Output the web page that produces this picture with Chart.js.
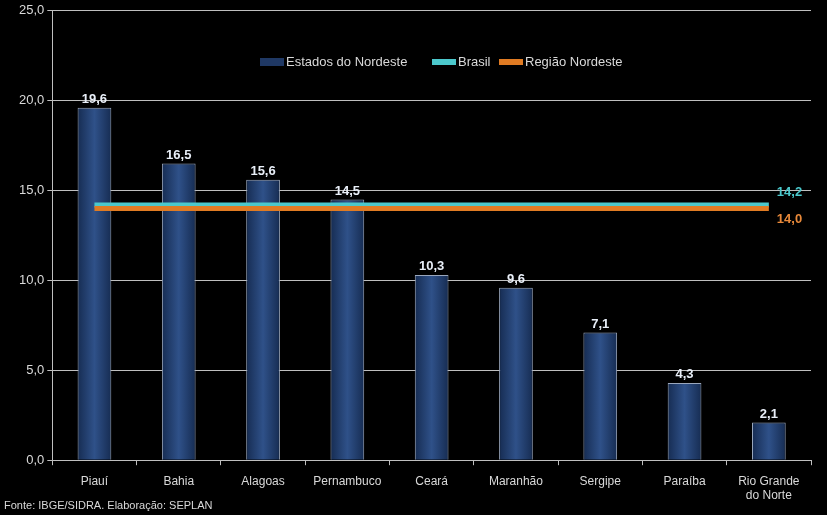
<!DOCTYPE html>
<html>
<head>
<meta charset="utf-8">
<script src="https://cdn.jsdelivr.net/npm/chart.js@4.4.0/dist/chart.umd.min.js"></script>
<style>
  html, body { margin: 0; padding: 0; background: #000; }
  #wrap { position: relative; width: 827px; height: 515px; }
  #source { position: absolute; left: 4px; top: 499px; color: #d9d9d9; font: 11px "Liberation Sans", Arial, sans-serif; }
</style>
</head>
<body>
<div id="wrap">
  <canvas id="chart" width="827" height="515"></canvas>
  <div id="source">Fonte: IBGE/SIDRA. Elaboração: SEPLAN</div>
</div>
<script>
const estados = ["Piauí", "Bahia", "Alagoas", "Pernambuco", "Ceará", "Maranhão", "Sergipe", "Paraíba", ["Rio Grande", "do Norte"]];
const valoresEstados = [19.6, 16.5, 15.6, 14.5, 10.3, 9.6, 7.1, 4.3, 2.1];
const valorBrasil = 14.2;
const valorNordeste = 14.0;
const yTicks = [0, 5, 10, 15, 20, 25];

const fmt = v => v.toFixed(1).replace(".", ",");
const font = '"Liberation Sans", Arial, sans-serif';

function barFill(context) {
  const chart = context.chart;
  const area = chart.chartArea;
  if (!area || !chart.scales.x) return "#1f3864";
  const x = chart.scales.x.getPixelForValue(context.dataIndex);
  const w = 34;
  const g = chart.ctx.createLinearGradient(x - w / 2, 0, x + w / 2, 0);
  g.addColorStop(0, "#162c52");
  g.addColorStop(0.5, "#2f5189");
  g.addColorStop(1, "#162c52");
  return g;
}

const labelsPlugin = {
  id: "labels",
  afterDatasetsDraw(chart) {
    const ctx = chart.ctx;
    ctx.save();
    ctx.font = "bold 13px " + font;
    ctx.textAlign = "center";
    ctx.textBaseline = "bottom";
    ctx.fillStyle = "#e8eef7";
    chart.getDatasetMeta(2).data.forEach((bar, i) => {
      ctx.fillText(fmt(valoresEstados[i]), bar.x, bar.y - 2);
    });
    // rótulos no fim das linhas
    const last = estados.length - 1;
    const pb = chart.getDatasetMeta(0).data[last];
    const pn = chart.getDatasetMeta(1).data[last];
    ctx.textAlign = "left";
    ctx.textBaseline = "middle";
    ctx.fillStyle = "#4bc8cc";
    ctx.fillText(fmt(valorBrasil), pb.x + 8, pb.y - 13);
    ctx.fillStyle = "#e8893a";
    ctx.fillText(fmt(valorNordeste), pn.x + 8, pn.y + 11);
    ctx.restore();
  }
};

const legendPlugin = {
  id: "customLegend",
  afterDraw(chart) {
    const ctx = chart.ctx;
    ctx.save();
    ctx.font = "13px " + font;
    ctx.textBaseline = "middle";
    const y = 62;
    const items = [
      { x: 260, text: "Estados do Nordeste", color: "#1f3864", h: 8 },
      { x: 432, text: "Brasil", color: "#4bc8cc", h: 6 },
      { x: 499, text: "Região Nordeste", color: "#e07b23", h: 6 },
    ];
    items.forEach(it => {
      ctx.fillStyle = it.color;
      ctx.fillRect(it.x, y - it.h / 2, 24, it.h);
      ctx.fillStyle = "#d9d9d9";
      ctx.fillText(it.text, it.x + 26, y);
    });
    ctx.restore();
  }
};

new Chart(document.getElementById("chart"), {
  data: {
    labels: estados,
    datasets: [
      {
        type: "line",
        label: "Brasil",
        data: estados.map(() => valorBrasil),
        borderColor: "#4bc8cc",
        borderWidth: 5,
        pointRadius: 0,
        order: 1,
      },
      {
        type: "line",
        label: "Região Nordeste",
        data: estados.map(() => valorNordeste),
        borderColor: "#e07b23",
        borderWidth: 5,
        pointRadius: 0,
        order: 0,
      },
      {
        type: "bar",
        label: "Estados do Nordeste",
        data: valoresEstados,
        backgroundColor: barFill,
        borderColor: "#9aa7bd",
        borderWidth: 1,
        barPercentage: 0.4,
        categoryPercentage: 1,
        order: 2,
      },
    ],
  },
  options: {
    responsive: false,
    animation: false,
    layout: { padding: { top: 3, right: 16, bottom: 3, left: 16 } },
    plugins: {
      legend: { display: false },
      tooltip: { enabled: false },
    },
    scales: {
      x: {
        grid: { offset: true, drawOnChartArea: false, color: "#bfbfbf", tickLength: 5 },
        border: { color: "#bfbfbf" },
        ticks: { color: "#d9d9d9", font: { family: font, size: 12 }, maxRotation: 0, autoSkip: false, padding: 9 },
      },
      y: {
        min: 0,
        max: 25,
        afterBuildTicks: axis => { axis.ticks = yTicks.map(v => ({ value: v })); },
        grid: { color: "#bfbfbf", tickLength: 5 },
        border: { color: "#bfbfbf" },
        ticks: { color: "#d9d9d9", font: { family: font, size: 13 }, callback: v => fmt(v) },
      },
    },
  },
  plugins: [labelsPlugin, legendPlugin],
});
</script>
</body>
</html>
